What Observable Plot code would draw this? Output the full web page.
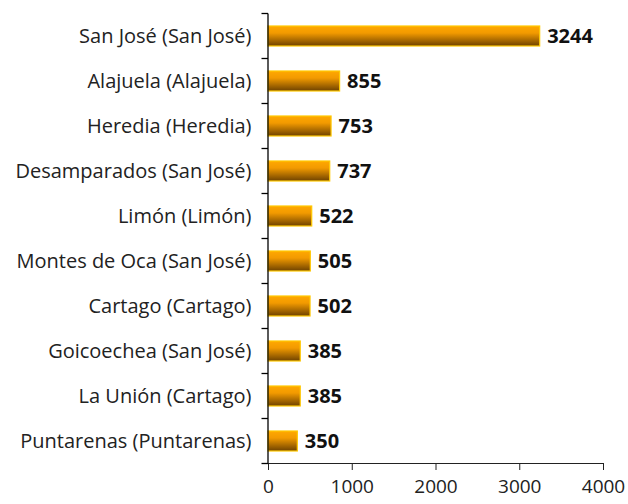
<!DOCTYPE html>
<html>
<head>
<meta charset="utf-8">
<script src="https://cdn.jsdelivr.net/npm/d3@7"></script>
<script src="https://cdn.jsdelivr.net/npm/@observablehq/plot@0.6"></script>
<style>
  html, body { margin: 0; padding: 0; background: #fff; }
  #chart { width: 628px; height: 504px; }
</style>
</head>
<body>
<div id="chart"></div>
<script>
const cantones = [
  "San José (San José)",
  "Alajuela (Alajuela)",
  "Heredia (Heredia)",
  "Desamparados (San José)",
  "Limón (Limón)",
  "Montes de Oca (San José)",
  "Cartago (Cartago)",
  "Goicoechea (San José)",
  "La Unión (Cartago)",
  "Puntarenas (Puntarenas)"
];
const valores = [3244, 855, 753, 737, 522, 505, 502, 385, 385, 350];
const xTicks = [0, 1000, 2000, 3000, 4000];

const data = cantones.map((c, i) => ({canton: c, valor: valores[i]}));

const FONT = "'Open Sans', sans-serif";

// gradient definition
const gradientDefs = () => {
  const svg = d3.create("svg:g");
  const defs = svg.append("defs");
  const g = defs.append("linearGradient").attr("id", "barGrad")
    .attr("x1", 0).attr("y1", 0).attr("x2", 0).attr("y2", 1);
  g.append("stop").attr("offset", "0%").attr("stop-color", "#ffa800");
  g.append("stop").attr("offset", "35%").attr("stop-color", "#f29a00");
  g.append("stop").attr("offset", "100%").attr("stop-color", "#6e4200");
  return svg.node();
};

// y-axis line with ticks on band boundaries
const yAxisTicks = (index, scales, values, dims) => {
  const y = scales.y, x = scales.x;
  const g = d3.create("svg:g").attr("stroke", "#000").attr("stroke-width", 1.3);
  const x0 = x(0);
  const step = y.step ? y.step() : y.bandwidth();
  const domain = y.domain();
  const bounds = [];
  const first = y(domain[0]) + y.bandwidth() / 2 - step / 2;
  for (let i = 0; i <= domain.length; i++) bounds.push(first + i * step);
  g.append("line").attr("x1", x0).attr("x2", x0)
    .attr("y1", bounds[0]).attr("y2", bounds[bounds.length - 1]);
  bounds.forEach(b => {
    g.append("line").attr("x1", x0 - 6.5).attr("x2", x0).attr("y1", b).attr("y2", b);
  });
  return g.node();
};

const chart = Plot.plot({
  width: 628,
  height: 504,
  marginLeft: 268,
  marginRight: 25,
  marginTop: 13,
  marginBottom: 41,
  style: {fontFamily: FONT, fontSize: "20px", color: "#222", background: "#fff"},
  x: {domain: [0, 4000], ticks: xTicks, tickFormat: d => String(d), tickSize: 7, tickPadding: 9, label: null, line: true},
  y: {domain: cantones, paddingInner: 0.56, paddingOuter: 0.28, tickSize: 0, tickPadding: 17, label: null},
  marks: [
    gradientDefs,
    Plot.barX(data, {x: "valor", y: "canton", fill: "url(#barGrad)", stroke: "#ffc800", strokeWidth: 1.2}),
    Plot.text(data, {x: "valor", y: "canton", text: d => String(d.valor), dx: 7, textAnchor: "start",
      fontWeight: "bold", fontSize: 20, fill: "#111"}),
    yAxisTicks
  ]
});

chart.querySelectorAll("g[aria-label='x-axis tick label']").forEach(n => n.setAttribute("font-size", "19"));

document.getElementById("chart").appendChild(chart);
</script>
</body>
</html>
